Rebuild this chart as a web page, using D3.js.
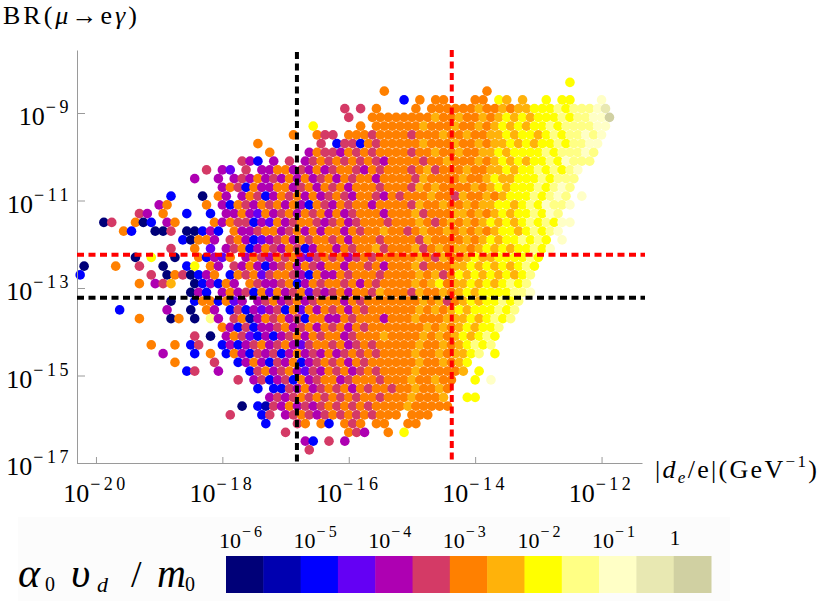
<!DOCTYPE html>
<html lang="en">
<head>
<meta charset="UTF-8">
<title>BR(mu -> e gamma) vs |de/e|</title>
<script src="https://cdn.jsdelivr.net/npm/d3@7"></script>
<style>
body { margin: 0; background: #fff; }
text { font-family: "Liberation Serif", "Times New Roman", Tinos, serif; fill: #000; }
</style>
</head>
<body>
<script>
// tick exponents
var xTickExp = [-20, -18, -16, -14, -12];
var yTickExp = [-9, -11, -13, -15, -17];
// experimental bounds (log10), first one red, second black
var brBoundExp = [-12.24, -13.22];
var deBoundExp = [-14.37, -16.82];
// colour classes of alpha0 vd / m0 and the legend labels
var classColors = ['#000078', '#0000b0', '#0000ff', '#6400f4', '#ae00b2', '#d43a66', '#ff8000',
    '#ffb20a', '#ffff00', '#ffff84', '#ffffc6', '#e8e8b2', '#d0d0a2'];
var legendExp = [-6, -5, -4, -3, -2, -1, 0];

// the scatter on a log grid:
// one string per row (log BR from -8.3 down by 0.2), one char per column
// (log de from -20.25 up by 0.125, odd rows shifted half a column),
// char = colour class (hex), '.' = no point
var gridX0 = -20.25, gridDX = 0.125, gridY0 = -8.3, gridDY = 0.2;
var cloudRows = [
    "........ ........ ........ ........ ........ ........ ........ ......8. ........",
    "........ ........ ........ ........ ......6. ........ ...6.... ........ ........",
    "........ ........ ........ ........ ........ .2.6.66. ..66.87. 7..8.88. ..a.....",
    "........ ........ ........ ........ .5.5.6.. ..6.6666 66766767 78889899 9ab.....",
    "........ ........ ........ ........ ..5..666 66666766 76676787 87888989 9aac....",
    "........ ........ ........ .....8.. ...6.666 66676667 66767878 78898999 9aa.....",
    "........ ........ ........ ...6..65 5.666566 66566676 67667787 88789899 a9a.....",
    "........ ........ ......6. ......5. 25526566 66676667 66767787 87889899 aa......",
    "........ ........ ........ 6....465 54656566 66566766 76677878 88898999 a9......",
    "........ ........ ....542. 4.5.4565 65656546 66656676 66767878 78898a99 9.......",
    "........ ........ 5.43.5.4 46645464 56654656 66567566 67667787 8898989a ........",
    "........ ......4. .4.45464 54646456 46566466 66576666 76678778 8898999. ........",
    "........ ........ ..465264 46645646 56466656 66576766 66767878 88989a9. ........",
    "........ ...2...0 .64.4652 46564645 65466546 56667665 76676788 8989a9.a ........",
    "........ ..46.... 6.426546 56464265 46566466 66576676 67677887 898a99a. ........",
    ".......5 4.6..2.. 2.446436 45646564 64566646 66756667 76767878 898a9... ........",
    "...05..6 02.46... .6465524 36456654 56456665 66676567 67678787 89898aa. ........",
    ".....62. .005.002 42.64456 64564646 64656676 65676676 76767887 8989a... ........",
    "........ .....206 64.56423 45646566 56466656 66657666 67678788 9898.a.. ........",
    "........ ...5..6. 3.456246 54652466 46566756 66756767 76787878 898a.... ........",
    ".......0 .8..0..6 2436.465 46564356 56456566 66676576 67877888 898..... ........",
    "0...6..5 ..0..28. 64.54642 45646546 64665646 66756667 78787878 98...... ........",
    "2....... .5.06502 46.26563 56654264 46566656 66676756 87878787 89...... ........",
    ".......6 .457..02 4264.654 45624656 65646566 66767867 78787898 9....... ........",
    "........ ......04 2.464526 36456354 56466576 66576676 78788889 9a...... ........",
    "........ ...0..26 62634.45 64564566 64656666 66676756 78788989 ........ ........",
    ".....2.. ...4..0. 64.25243 45263646 56465666 66676767 87888989 ........ ........",
    ".......6 ...06.0. 94.56146 56452664 46566646 66766677 7878989. ........ ........",
    "........ ........ ..642524 45645646 56465666 66667676 787889.. ........ ........",
    "........ ......5. 0.465324 24564656 64566676 66676767 87898... ........ ........",
    "........ .6..6.25 ..242456 45643566 56456566 66676676 78989... ........ ........",
    "........ ..4...2. 6.264254 52464546 45656566 66766767 789.8... ........ ........",
    "........ ....6... .5..2464 25462456 56465666 66676676 78...... ........ ........",
    "........ .....25. .4...256 45643546 56456566 66766666 7.8..... ........ ........",
    "........ ........ ....5.45 24526456 64566656 66766766 ..8.a... ........ ........",
    "........ ........ ......2. 22546456 56465665 6676676. ........ ........ ........",
    "........ ........ ........ 45456565 65656656 6676667. .88..... ........ ........",
    "........ ........ ....0.21 54645456 56565666 6766666. ........ ........ ........",
    "........ ........ ...5...2 5.456545 65656566 6.666... ........ ........ ........",
    "........ ........ .......2 ...56.62 .656.66. .66..... ........ ........ ........",
    "........ ........ ........ ..5..... ..654..6 .8...... ........ ........ ........",
    "........ ........ ........ ....42.5 .4...... ........ ........ ........ ........",
    "........ ........ ........ .....5.. ........ ........ ........ ........ ........"
];

var width = 830, height = 616;
var svg = d3.select('body').append('svg')
    .attr('width', width)
    .attr('height', height);

var x = d3.scaleLog()
    .domain([Math.pow(10, -20.3), Math.pow(10, -11.36)])
    .range([77, 642]);
var y = d3.scaleLog()
    .domain([1e-17, Math.pow(10, -7.56)])
    .range([463, 50]);
var color = d3.scaleOrdinal().domain(d3.range(classColors.length)).range(classColors);

// unpack the grid
var points = [];
cloudRows.forEach(function(row, j) {
    var s = row.replace(/ /g, '');
    for (var i = 0; i < s.length; i++) {
        if (s[i] === '.') continue;
        points.push({
            de: Math.pow(10, gridX0 + (i + (j % 2) * 0.5) * gridDX),
            br: Math.pow(10, gridY0 - j * gridDY),
            k: parseInt(s[i], 16)
        });
    }
});

svg.append('g').selectAll('circle')
    .data(points)
    .enter()
    .append('circle')
    .attr('cx', function(d) { return x(d.de); })
    .attr('cy', function(d) { return y(d.br); })
    .attr('r', 4.8)
    .attr('fill', function(d) { return color(d.k); });

// axes, ticks pointing inwards
var xAxis = d3.axisBottom(x)
    .tickValues(xTickExp.map(function(e) { return Math.pow(10, e); }))
    .tickSize(-6).tickSizeOuter(0).tickFormat('');
var yAxis = d3.axisLeft(y)
    .tickValues(yTickExp.map(function(e) { return Math.pow(10, e); }))
    .tickSize(-8).tickSizeOuter(0).tickFormat('');
svg.append('g').attr('transform', 'translate(0,463)').call(xAxis);
svg.append('g').attr('transform', 'translate(77,0)').call(yAxis);
svg.selectAll('.domain, .tick line').attr('stroke', '#9a9a9a').attr('stroke-width', 1);

// dashed bounds
var boundColors = ['#ff0000', '#000000'];
svg.append('g').selectAll('line')
    .data(brBoundExp)
    .enter()
    .append('line')
    .attr('x1', 77).attr('x2', 645)
    .attr('y1', function(d) { return y(Math.pow(10, d)); })
    .attr('y2', function(d) { return y(Math.pow(10, d)); })
    .attr('stroke', function(d, i) { return boundColors[i]; })
    .attr('stroke-width', 4)
    .attr('stroke-dasharray', '7,4.5');
svg.append('g').selectAll('line')
    .data(deBoundExp)
    .enter()
    .append('line')
    .attr('x1', function(d) { return x(Math.pow(10, d)); })
    .attr('x2', function(d) { return x(Math.pow(10, d)); })
    .attr('y1', function(d, i) { return i === 0 ? 50 : 52; })
    .attr('y2', 463)
    .attr('stroke', function(d, i) { return boundColors[i]; })
    .attr('stroke-width', 4)
    .attr('stroke-dasharray', '7,4.5');

// 10^n label helper
function powLabel(g, px, py, anchor, baseSize, supSize, exp, supDy, spacing) {
    var t = g.append('text')
        .attr('x', px).attr('y', py)
        .attr('text-anchor', anchor)
        .attr('font-size', baseSize);
    t.append('tspan').text('10');
    t.append('tspan')
        .attr('font-size', supSize)
        .attr('dx', 1)
        .attr('dy', supDy)
        .attr('letter-spacing', spacing)
        .text('\u2212' + Math.abs(exp));
    return t;
}

xTickExp.forEach(function(e) {
    powLabel(svg, x(Math.pow(10, e)), 502, 'middle', 26, 18, e, -12, 3.5);
});
yTickExp.forEach(function(e) {
    powLabel(svg, 72, y(Math.pow(10, e)) + 12, 'end', 26, 18, e, -12, 3.5);
});

// axis titles
var ty = svg.append('text').attr('x', 3).attr('y', 24)
    .attr('font-size', 26).attr('letter-spacing', 3);
ty.append('tspan').text('BR(');
ty.append('tspan').attr('font-style', 'italic').text('\u03bc');
ty.append('tspan').text('\u2192e');
ty.append('tspan').attr('font-style', 'italic').text('\u03b3');
ty.append('tspan').text(')');

var tx = svg.append('text').attr('x', 655).attr('y', 478)
    .attr('font-size', 26).attr('letter-spacing', 2.3);
tx.append('tspan').text('|');
tx.append('tspan').attr('font-style', 'italic').text('d');
tx.append('tspan').attr('font-style', 'italic').attr('font-size', 17).attr('dy', 5).text('e');
tx.append('tspan').attr('dy', -5).text('/e|(GeV');
tx.append('tspan').attr('font-size', 17).attr('dy', -11).text('\u22121');
tx.append('tspan').attr('dy', 11).text(')');

// colour legend
svg.append('rect')
    .attr('x', 18).attr('y', 517).attr('width', 712).attr('height', 84)
    .attr('fill', '#fcfcfc');

var band = d3.scaleBand().domain(d3.range(classColors.length)).range([226, 711]);
svg.append('g').selectAll('rect')
    .data(classColors)
    .enter()
    .append('rect')
    .attr('x', function(d, i) { return band(i); })
    .attr('y', 556)
    .attr('width', band.bandwidth() + 0.5)
    .attr('height', 37)
    .attr('fill', function(d) { return d; });

legendExp.forEach(function(e, k) {
    if (e === 0) {
        svg.append('text')
            .attr('x', band(2 * k) - 4).attr('y', 545)
            .attr('font-size', 21)
            .text('1');
    } else {
        powLabel(svg, band(2 * k) - 7, 548, 'start', 22, 16, e, -11, 3);
    }
});

var legendTitle = [
    { t: '\u03b1', x: 18, y: 587, s: 42, it: true },
    { t: '0', x: 45, y: 591, s: 20, it: false },
    { t: '\u03c5', x: 71, y: 587, s: 42, it: true },
    { t: 'd', x: 97, y: 592, s: 22, it: true },
    { t: '/', x: 131, y: 587, s: 38, it: false },
    { t: 'm', x: 157, y: 587, s: 40, it: true },
    { t: '0', x: 185, y: 591, s: 20, it: false }
];
svg.append('g').selectAll('text')
    .data(legendTitle)
    .enter()
    .append('text')
    .attr('x', function(d) { return d.x; })
    .attr('y', function(d) { return d.y; })
    .attr('font-size', function(d) { return d.s; })
    .attr('font-style', function(d) { return d.it ? 'italic' : 'normal'; })
    .text(function(d) { return d.t; });
</script>
</body>
</html>
